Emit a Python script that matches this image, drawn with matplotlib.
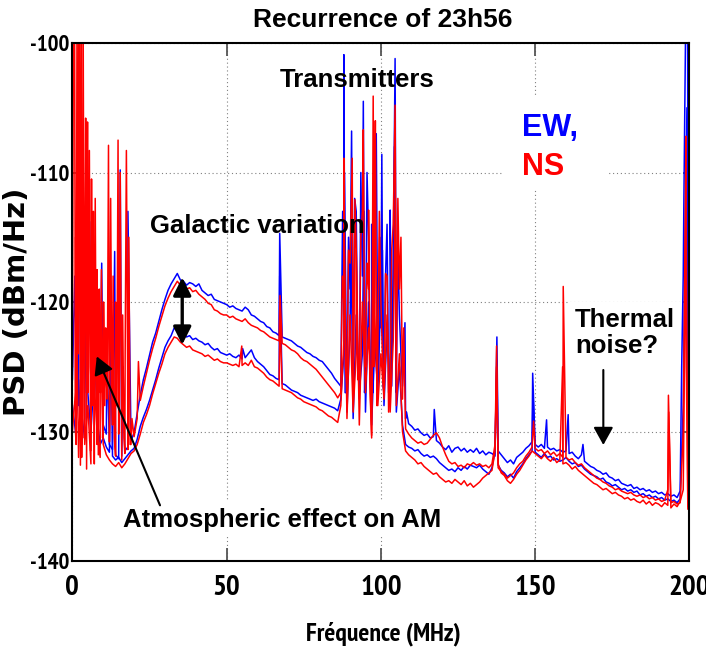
import numpy as np
import matplotlib
matplotlib.use('Agg')
import matplotlib.pyplot as plt
from matplotlib.patches import Rectangle

plt.rcParams['axes.unicode_minus'] = False

# frequency grid (MHz), 1 MHz step
freq = np.arange(0, 201)

# PSD (dBm/Hz), two states (hi / lo) per antenna
ew_hi = [
    -126, -121, -128, -119, -127, -117, -124, -128, -122, -127,
    -129.5, -130.2, -131.0, -131.4, -131.8, -132.1, -131.9, -131.5, -131.2, -130.7,
    -130.1, -128.6, -127.2, -126.0, -125.1, -124.1, -123.1, -122.4, -121.5, -120.6,
    -119.8, -119.1, -118.6, -118.2, -117.8, -118.3, -118.4, -118.7, -118.5, -118.6,
    -118.8, -118.6, -119.1, -119.3, -119.5, -119.4, -119.8, -119.9, -120.0, -120.1,
    -120.2, -120.4, -120.3, -120.5, -120.6, -120.7, -120.4, -120.6, -121.0, -121.1,
    -121.3, -121.5, -121.6, -121.9, -122.0, -122.3, -122.4, -122.6, -122.7, -122.8,
    -122.9, -123.0, -123.2, -123.4, -123.5, -123.7, -123.9, -124.0, -124.2, -124.3,
    -124.5, -124.6, -124.9, -125.2, -125.5, -125.9, -126.2, -126.5, -121.0, -127.0,
    -119.0, -126.0, -113.0, -127.5, -118.0, -126.0, -115.0, -128.0, -117.0, -125.0,
    -122.0, -127.0, -114.0, -125.5, -117.0, -127.0, -121.0, -126.5, -129.0, -129.4,
    -129.6, -129.9, -129.8, -130.1, -130.3, -130.2, -130.5, -130.4, -130.7, -130.9,
    -131.2, -131.4, -131.1, -131.6, -131.3, -131.2, -131.5, -131.3, -131.6, -131.4,
    -131.6, -131.3, -131.7, -131.5, -131.8, -131.6, -131.7, -131.9, -131.5, -131.8,
    -132.1, -132.4, -132.2, -132.5, -132.0, -131.8, -131.6, -131.3, -131.1, -130.8,
    -131.0, -131.2, -131.0, -131.3, -131.2, -131.4, -131.3, -131.5, -131.4, -131.6,
    -131.5, -131.7, -131.6, -131.9, -132.1, -131.8, -132.3, -132.5, -132.7, -132.8,
    -133.0, -133.1, -133.3, -133.2, -133.5, -133.6, -133.8, -133.7, -134.0, -134.1,
    -134.2, -134.1, -134.4, -134.3, -134.5, -134.4, -134.6, -134.5, -134.7, -134.6,
    -134.8, -134.7, -134.9, -134.8, -135.0, -134.9, -135.1, -134.6, -118.0, -99.0,
    -135.6]

ew_lo = [
    -128, -130, -126, -131, -129, -127, -130, -126, -129, -131,
    -130.5, -131.2, -131.6, -131.9, -132.2, -132.0, -132.4, -132.1, -131.8, -131.5,
    -131.3, -130.6, -129.6, -128.9, -128.3, -127.6, -126.8, -126.0, -125.1, -124.3,
    -123.5, -123.0, -122.6, -122.0, -122.2, -122.5, -122.4, -122.7, -122.6, -122.9,
    -122.8, -123.0, -123.1, -123.3, -123.2, -123.5, -123.7, -123.6, -123.9, -124.0,
    -124.1, -124.0, -124.2, -124.3, -124.1, -124.4, -124.3, -124.0, -123.7, -124.3,
    -124.6, -124.8, -125.0, -125.3, -125.6, -125.7, -125.9, -126.0, -126.3, -126.4,
    -126.6, -126.8, -126.9, -127.0, -127.2, -127.3, -127.4, -127.5, -127.6, -127.5,
    -127.7, -127.8, -127.9, -128.0, -128.1, -128.2, -128.4, -127.5, -124.0, -128.5,
    -122.0, -129.0, -121.0, -127.0, -124.0, -128.5, -120.0, -129.5, -123.0, -127.0,
    -119.0, -128.0, -122.0, -127.0, -120.0, -128.5, -125.0, -129.5, -131.0, -131.2,
    -131.3, -131.5, -131.4, -131.7, -131.9, -131.8, -132.0, -131.9, -132.1, -132.4,
    -132.6, -132.8, -133.0, -132.9, -133.1, -132.8, -133.0, -132.7, -132.9, -132.6,
    -132.7, -132.8, -132.6, -132.9, -133.1, -133.3, -132.8, -131.5, -132.6, -133.0,
    -133.2, -133.5, -133.3, -133.6, -133.1, -132.8, -132.5, -132.1, -131.8, -131.5,
    -131.6, -131.8, -132.0, -131.7, -132.0, -131.9, -132.2, -132.1, -132.3, -132.2,
    -132.0, -132.3, -132.5, -132.4, -132.7, -132.6, -132.9, -133.1, -133.3, -133.4,
    -133.5, -133.7, -133.6, -133.9, -134.0, -134.2, -134.1, -134.3, -134.5, -134.4,
    -134.6, -134.5, -134.7, -134.6, -134.9, -134.8, -135.0, -134.9, -135.1, -135.0,
    -135.2, -135.1, -135.3, -135.2, -135.4, -135.3, -135.5, -135.2, -128.0, -108.0,
    -135.8]

ns_hi = [
    -125, -130, -118, -132, -121, -127, -129, -123, -131, -126,
    -128.5, -126.0, -130.8, -129.5, -131.9, -130.2, -132.2, -131.7, -131.4, -131.0,
    -130.4, -129.0, -127.6, -126.5, -125.5, -124.5, -123.6, -122.8, -121.9, -121.1,
    -120.3, -119.7, -119.2, -118.8, -118.4, -118.7, -118.9, -119.0, -118.9, -119.2,
    -119.1, -119.4, -119.6, -119.8, -120.1, -120.2, -120.6, -120.7, -120.9, -121.0,
    -121.0, -121.2, -121.1, -121.3, -121.4, -121.5, -121.3, -121.6, -121.8, -121.9,
    -122.0, -122.2, -122.3, -122.5, -122.7, -122.8, -122.9, -123.0, -123.2, -123.3,
    -123.5, -123.7, -123.8, -124.0, -124.3, -124.5, -124.6, -124.8, -125.0, -125.2,
    -125.5, -125.8, -126.1, -126.4, -126.7, -127.0, -127.4, -127.0, -120.0, -126.5,
    -117.0, -127.5, -116.0, -126.0, -113.0, -125.0, -119.0, -130.3, -112.0, -124.0,
    -120.0, -126.5, -118.0, -127.0, -114.0, -126.0, -119.0, -127.5, -129.8, -130.2,
    -130.5, -130.7, -130.9, -130.8, -131.0, -130.9, -130.6, -130.3, -130.1, -130.5,
    -131.2, -131.8, -132.3, -132.5, -132.4, -132.7, -132.6, -132.8, -132.5, -132.6,
    -132.4, -132.6, -132.5, -132.7, -132.6, -132.8, -132.5, -131.0, -132.8, -133.1,
    -133.3, -133.6, -133.4, -133.2, -132.8, -132.5, -132.3, -131.9, -131.6, -131.2,
    -131.3, -131.5, -131.4, -131.7, -131.5, -131.8, -131.6, -131.9, -131.7, -132.0,
    -132.0, -132.2, -132.1, -132.4, -132.6, -132.5, -132.8, -133.0, -133.2, -133.4,
    -133.6, -133.7, -133.9, -134.0, -134.2, -134.3, -134.5, -134.4, -134.6, -134.7,
    -134.8, -134.7, -134.9, -135.0, -134.9, -135.1, -135.0, -135.2, -135.1, -135.3,
    -135.2, -135.4, -135.3, -134.5, -135.5, -135.4, -135.6, -135.5, -130.0, -115.0,
    -135.9]

ns_lo = [
    -130, -127, -132, -124, -131, -128, -132.5, -126, -130, -132,
    -131.0, -131.8, -132.2, -132.5, -132.7, -132.4, -132.8, -132.5, -132.1, -131.7,
    -131.5, -131.0, -130.2, -129.3, -128.7, -128.0, -127.1, -126.3, -125.5, -124.8,
    -124.0, -123.5, -123.1, -122.7, -122.8, -123.1, -123.3, -123.5, -123.4, -123.7,
    -123.8, -123.9, -124.0, -124.2, -124.1, -124.3, -124.5, -124.4, -124.6, -124.7,
    -124.7, -124.8, -124.9, -124.8, -125.0, -124.9, -124.7, -124.9, -124.5, -125.0,
    -125.1, -125.3, -125.5, -125.8, -126.0, -126.1, -126.3, -126.5, -126.7, -126.8,
    -126.9, -127.0, -127.2, -127.4, -127.5, -127.7, -127.8, -127.9, -128.0, -128.1,
    -128.3, -128.4, -128.6, -128.8, -128.9, -129.1, -129.3, -128.0, -123.0, -129.0,
    -121.0, -128.5, -124.0, -129.5, -120.0, -127.0, -122.0, -130.5, -121.0, -128.0,
    -124.0, -127.5, -121.0, -128.5, -123.0, -128.0, -124.0, -130.0, -131.5, -131.8,
    -132.0, -132.2, -132.5, -132.4, -132.7, -132.9, -133.1, -133.3, -133.2, -133.5,
    -133.7, -133.9, -133.8, -134.0, -133.7, -133.9, -134.1, -133.8, -134.2, -134.0,
    -134.3, -134.1, -133.9, -133.6, -133.4, -133.2, -133.0, -131.5, -132.5, -133.2,
    -133.4, -133.8, -134.0, -133.7, -133.3, -133.0, -132.6, -132.2, -131.9, -131.5,
    -131.7, -131.9, -132.1, -131.8, -132.1, -132.3, -132.0, -132.4, -132.2, -132.5,
    -132.4, -132.6, -132.9, -132.7, -133.0, -133.2, -133.4, -133.6, -133.8, -134.0,
    -134.1, -134.3, -134.5, -134.4, -134.6, -134.8, -134.7, -134.9, -135.0, -135.2,
    -135.1, -135.3, -135.2, -135.4, -135.5, -135.3, -135.6, -135.4, -135.7, -135.5,
    -135.6, -135.8, -135.5, -135.7, -135.9, -135.6, -135.8, -135.4, -134.5, -125.0,
    -136.0]

# narrow spikes (freq MHz, dBm/Hz) between grid samples
ew_hi_spikes = [
    (0.8, -118), (2.2, -112), (3.8, -121), (5.6, -113.8), (6.8, -119), (8.5, -121),
    (9.5, -117), (11.2, -124), (13.7, -116.1), (15.5, -109.8), (16.4, -125), (18.0, -113),
    (67.2, -114.7),
    (87.6, -113), (88.0, -100.9), (88.4, -127), (89.5, -115), (90.5, -106.8), (90.9, -125),
    (91.5, -112), (92.5, -124), (93.5, -110), (94.3, -104.5), (94.7, -127), (95.5, -110),
    (96.5, -126), (97.0, -114), (97.5, -127), (98.5, -107), (99.2, -126), (99.6, -115),
    (100.3, -108.6), (100.7, -126.5), (101.5, -118), (102.5, -127), (103.0, -112.9),
    (103.5, -126.5), (104.6, -101.2), (105.0, -126), (105.5, -116), (106.5, -124),
    (107.8, -121.6), (108.3, -128.5),
    (117.3, -128.3), (137.6, -122.7), (149.2, -125.5), (153.7, -129.1), (160.7, -128.7),
    (165.5, -131.0), (197.5, -125), (198.2, -112.5), (198.8, -98), (199.4, -97),
    (199.7, -135.6)]

ew_lo_spikes = [
    (4.0, -120), (7.5, -124), (12.5, -123), (55.2, -123.6), (67.2, -118),
    (88.2, -110), (90.3, -115), (94.5, -113), (100.5, -116), (104.4, -108),
    (137.6, -124.5), (149.3, -127), (198.6, -115), (199.2, -105), (199.7, -135.7)]

ns_hi_spikes = [
    (0.3, -101), (0.7, -97), (1.2, -131), (1.5, -97), (1.9, -124), (2.2, -98),
    (2.6, -132.6), (2.9, -99), (3.2, -127), (3.5, -99.5), (3.9, -130.5), (4.3, -105.8),
    (4.6, -132.9), (4.9, -106.1), (5.2, -125), (5.5, -108.3), (5.9, -131.5), (6.2, -110.5),
    (6.5, -128), (6.8, -113), (7.1, -132.5), (7.4, -112), (7.7, -126), (8.0, -117.5),
    (8.4, -131.8), (8.7, -119), (9.1, -127), (9.4, -117.5), (9.8, -130.5), (10.1, -120),
    (10.5, -128), (10.8, -122), (11.3, -127.5), (11.7, -107.9), (12.1, -129), (12.4, -112),
    (12.8, -127), (13.2, -118), (13.6, -130.5), (14.0, -120), (14.4, -128), (14.8, -107.5),
    (15.2, -126), (15.5, -110), (15.9, -129), (16.3, -121), (16.7, -130.5), (17.1, -124),
    (17.5, -108.3), (17.9, -125), (18.3, -115), (18.7, -131), (19.3, -129), (21.4, -124.6),
    (67.3, -119.5),
    (87.5, -118), (88.0, -108.9), (88.5, -125), (89.5, -116), (90.7, -108.9), (91.2, -124),
    (91.6, -112.1), (92.5, -126), (93.5, -115), (94.3, -106.7), (94.7, -124), (95.5, -117),
    (96.0, -112.9), (96.5, -127), (97.5, -104.1), (97.8, -125), (98.2, -106), (98.7, -128),
    (99.5, -113), (100.6, -125), (101.5, -117.8), (102.5, -128.5), (103.5, -116),
    (104.6, -104.8), (105.0, -126), (105.5, -112), (106.5, -115), (107.4, -122),
    (137.5, -123.4), (149.5, -129.2), (159.1, -118.8), (193.2, -127.2), (198.9, -107.2),
    (199.5, -135.8)]

ns_lo_spikes = [
    (1.0, -115), (3.0, -110), (6.0, -118), (9.0, -121), (54.9, -123.4), (67.3, -121),
    (88.0, -114), (92.0, -116), (97.8, -110), (104.7, -112),
    (137.5, -125), (158.9, -125), (193.3, -128.5), (198.9, -112), (199.5, -136)]


def with_spikes(base, spikes):
    f = np.concatenate([freq, [s[0] for s in spikes]])
    v = np.concatenate([base, [s[1] for s in spikes]])
    order = np.argsort(f, kind='stable')
    return f[order], v[order]


BLUE = '#0000FF'
RED = '#FF0000'
narrow = ['PT Sans Narrow', 'Liberation Sans', 'DejaVu Sans']
arial = ['Liberation Sans', 'DejaVu Sans']

fig = plt.figure(figsize=(7.06, 6.56), dpi=100)
ax = fig.add_axes([72.4 / 706, 1 - 561 / 656, 617 / 706, 518 / 656])

for base, spikes, col in [(ew_hi, ew_hi_spikes, BLUE), (ew_lo, ew_lo_spikes, BLUE),
                          (ns_hi, ns_hi_spikes, RED), (ns_lo, ns_lo_spikes, RED)]:
    f, v = with_spikes(base, spikes)
    ax.plot(f, v, color=col, lw=1.1)

ax.set_xlim(0, 200)
ax.set_ylim(-140, -100)
ax.set_xticks([0, 50, 100, 150, 200])
ax.set_yticks([-140, -130, -120, -110, -100])
ax.grid(True, linestyle=(0, (1, 2.5)), color='#808080', linewidth=0.8)
ax.set_axisbelow(True)
for s in ax.spines.values():
    s.set_linewidth(1.5)
ax.tick_params(axis='x', direction='in', length=9.4, width=1.3, pad=10, top=True,
               color='#555555', labelsize=21)
ax.tick_params(axis='y', direction='in', length=4.3, width=1.3, pad=2, right=True,
               color='#555555', labelsize=16.5)
for lab in ax.get_xticklabels() + ax.get_yticklabels():
    lab.set_fontfamily(narrow)
    lab.set_fontweight('bold')

fig.text(383 / 706, 1 - 20 / 656, 'Recurrence of 23h56', ha='center', va='center',
         fontsize=19, fontweight='bold', family=arial)
fig.text(383 / 706, 1 - 634 / 656, 'Fréquence (MHz)', ha='center', va='center',
         fontsize=18.5, fontweight='bold', family=narrow)
fig.text(17 / 706, 1 - 302 / 656, 'PSD (dBm/Hz)', ha='center', va='center',
         rotation=90, fontsize=21, fontweight='bold', family=['DejaVu Sans'])

txt = dict(fontsize=18.5, fontweight='bold', family=arial, zorder=6)
white = dict(facecolor='white', edgecolor='none', pad=4)
ax.text(92.25, -102.86, 'Transmitters', ha='center', va='center', **txt)
ax.text(59.8, -114.1, 'Galactic variation', ha='center', va='center', **txt)
ax.text(67.9, -136.8, 'Atmospheric effect on AM', ha='center', va='center', bbox=white, **txt)
ax.text(162.9, -122.4, 'Thermal\nnoise?', ha='left', va='center', linespacing=1.1,
        bbox=white, **txt)

# white background behind the antenna labels
ax.add_patch(Rectangle((139.3, -111.35), 34.6, 7.18, facecolor='white',
                       edgecolor='none', zorder=5))
ax.text(145.7, -107.2, 'EW,', ha='left', va='baseline', color=BLUE, fontsize=22,
        fontweight='bold', family=arial, zorder=6)
ax.text(145.7, -110.2, 'NS', ha='left', va='baseline', color=RED, fontsize=22,
        fontweight='bold', family=arial, zorder=6)

# double arrow for galactic variation
ax.annotate('', xy=(35.6, -118.1), xytext=(35.6, -123.3),
            arrowprops=dict(arrowstyle='<|-|>,head_length=0.4,head_width=0.2', lw=2.4,
                            color='black', mutation_scale=27, shrinkA=0, shrinkB=0),
            zorder=7)
ax.annotate('', xy=(7.9, -124.2), xytext=(28.4, -135.7),
            arrowprops=dict(arrowstyle='-|>,head_length=0.45,head_width=0.25', lw=1.5,
                            color='black', mutation_scale=24, shrinkA=0, shrinkB=0),
            zorder=7)
ax.annotate('', xy=(172.1, -131.04), xytext=(172.1, -125.25),
            arrowprops=dict(arrowstyle='-|>,head_length=0.45,head_width=0.25', lw=1.5,
                            color='black', mutation_scale=24, shrinkA=0, shrinkB=0),
            zorder=7)

fig.savefig('out.png', dpi=100, facecolor='white')
